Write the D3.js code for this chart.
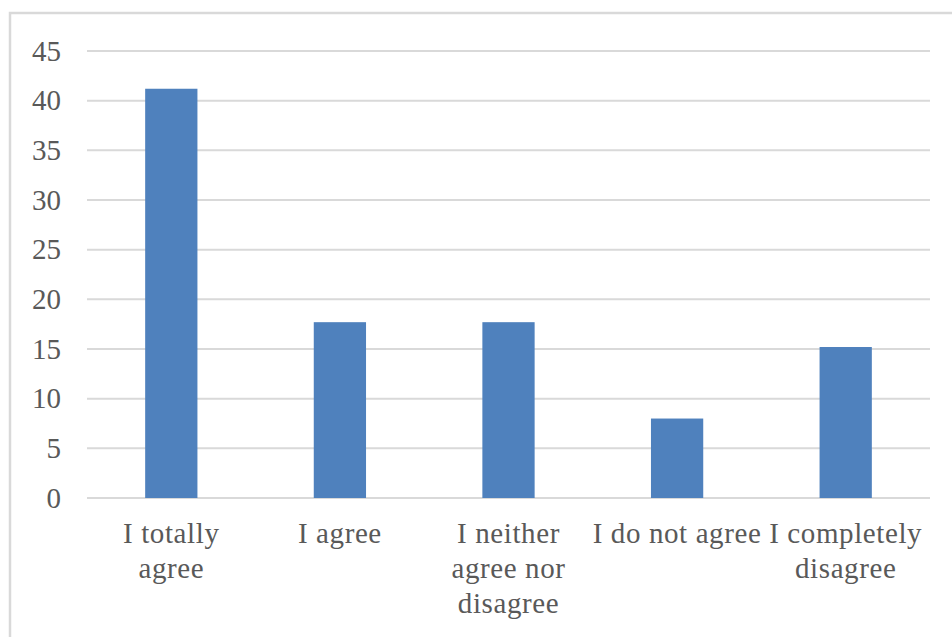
<!DOCTYPE html>
<html>
<head>
<meta charset="utf-8">
<script src="https://cdn.jsdelivr.net/npm/d3@7/dist/d3.min.js"></script>
<style>
  html, body { margin: 0; padding: 0; background: #ffffff; }
  svg { display: block; }
  text { font-family: "Liberation Serif", "Times New Roman", serif; fill: #595959; }
</style>
</head>
<body>
<svg id="chart" width="952" height="637"></svg>
<script>
// Survey responses (percent) by answer
const categories = [
  ["I totally", "agree"],
  ["I agree"],
  ["I neither", "agree nor", "disagree"],
  ["I do not agree"],
  ["I completely", "disagree"]
];
const values = [41.2, 17.7, 17.7, 8.0, 15.2];
const yTicks = [0, 5, 10, 15, 20, 25, 30, 35, 40, 45];

const svg = d3.select("#chart");
const W = 952, H = 637;
const margin = { top: 51, right: 22, bottom: 139, left: 87 };
const innerW = W - margin.left - margin.right;
const innerH = H - margin.top - margin.bottom;

// Chart area frame (open on the right and bottom)
svg.append("path")
  .attr("d", `M10,${H + 5} L10,13 L${W + 5},13`)
  .attr("fill", "none")
  .attr("stroke", "#d9d9d9")
  .attr("stroke-width", 2.5);

const g = svg.append("g").attr("transform", `translate(${margin.left},${margin.top})`);

const keys = categories.map((c, i) => String(i));
const x = d3.scaleBand().domain(keys).range([0, innerW])
  .paddingInner(0.69).paddingOuter(0.345);
const y = d3.scaleLinear().domain([0, 45]).range([innerH, 0]);

// Horizontal gridlines
g.append("g")
  .selectAll("line")
  .data(yTicks)
  .join("line")
  .attr("x1", 0).attr("x2", innerW)
  .attr("y1", d => y(d)).attr("y2", d => y(d))
  .attr("stroke", "#d9d9d9")
  .attr("stroke-width", 2);

// Y axis labels
const yAxis = d3.axisLeft(y).tickValues(yTicks).tickSize(0).tickPadding(26);
const yg = g.append("g").call(yAxis);
yg.select(".domain").remove();
yg.selectAll("text")
  .attr("font-size", 29)
  .style("font-family", "'Liberation Serif', 'Times New Roman', serif")
  .attr("fill", "#595959");

// Bars
g.append("g")
  .selectAll("rect")
  .data(values)
  .join("rect")
  .attr("x", (d, i) => x(keys[i]))
  .attr("width", x.bandwidth())
  .attr("y", d => y(d))
  .attr("height", d => y(0) - y(d))
  .attr("fill", "#4f81bd");

// Category labels (multi-line)
const xl = g.append("g").attr("transform", `translate(0,${innerH})`);
categories.forEach((lines, i) => {
  const cx = x(keys[i]) + x.bandwidth() / 2;
  const t = xl.append("text")
    .attr("text-anchor", "middle")
    .attr("font-size", 29)
    .attr("letter-spacing", "0.6px")
    .attr("x", cx)
    .attr("y", 45);
  lines.forEach((ln, j) => {
    t.append("tspan")
      .attr("x", cx)
      .attr("dy", j === 0 ? 0 : 35)
      .text(ln);
  });
});
</script>
</body>
</html>
